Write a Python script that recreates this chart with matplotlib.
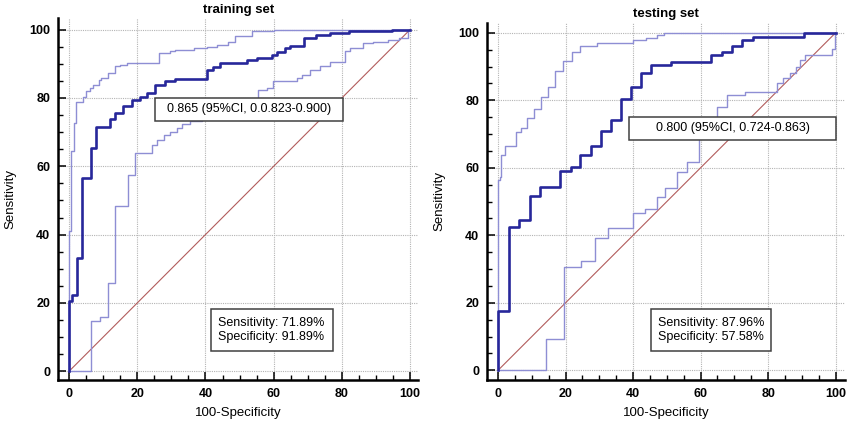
import numpy as np
import matplotlib
matplotlib.use('Agg')
import matplotlib.pyplot as plt
from matplotlib.patches import Rectangle
from matplotlib.ticker import MultipleLocator

plt.rcParams['font.family'] = ['Liberation Sans', 'DejaVu Sans']

# training set: ROC corner points (100-specificity, sensitivity)
train_fpr = [0, 0, 0.8, 2.2, 3.9, 6.4, 7.8, 12, 13.5, 15.9, 18.6, 20.8, 22.8, 25.2, 28.2,
             31.1, 40.4, 42.2, 44.3, 52.3, 55, 59.5, 61, 63.3, 64.8, 68.8, 72.3, 76.5, 82,
             94.6, 100]
train_tpr = [0, 20.5, 22.2, 33.2, 56.5, 65.3, 71.6, 73.8, 75.7, 77.5, 79.4, 80.4, 81.4, 83.8,
             84.8, 85.6, 88.2, 88.9, 90.3, 91.0, 91.7, 92.6, 93.3, 94.5, 95.1, 97.5, 98.3,
             99.0, 99.5, 100, 100]
train_up_fpr = [0, 0, 0.6, 1.5, 2.0, 4.2, 5.1, 6.2, 7.1, 8.9, 9.5, 11.5, 13.5, 15, 16.9, 26.5,
                29.6, 31.1, 36.5, 40.4, 43.3, 46.7, 48.7, 53.6, 60, 100]
train_up_tpr = [0, 41, 64.5, 72.8, 78.9, 80.4, 81.9, 82.8, 83.8, 85.3, 85.8, 87.2, 89.2, 89.7,
                90.2, 93.1, 93.6, 94.1, 94.6, 95.0, 95.5, 96.5, 98, 99.6, 100, 100]
train_lo_fpr = [0, 6.4, 9.1, 11.5, 13.5, 17.4, 19.4, 24.2, 25.7, 27.7, 29.6, 31.6, 33, 35.5,
                39, 43, 47, 51, 55.5, 57.9, 59.9, 66.8, 68.2, 70.7, 73.6, 76.5, 80.9, 82.4,
                86.3, 89.2, 93.6, 96.6, 99.5, 100]
train_lo_tpr = [0, 14.7, 15.8, 25.9, 48.5, 57.5, 63.8, 66.2, 67.7, 69.2, 70.1, 71.1, 72.4,
                73.1, 74.5, 76, 77.5, 79, 82.3, 82.8, 84.8, 85.8, 86.7, 88.2, 89.2, 90.6,
                93.6, 94.6, 96.0, 96.5, 97.0, 97.5, 100, 100]

# testing set
test_fpr = [0, 0, 3.2, 6.3, 9.4, 12.3, 18.4, 21.5, 24.3, 27.4, 30.4, 33.4, 36.3, 39.3, 42.4,
            45.4, 51.3, 63.2, 66.4, 69.4, 72.3, 75.5, 90.6, 100]
test_tpr = [0, 17.6, 42.4, 44.4, 51.7, 54.4, 59.1, 60.1, 63.8, 66.4, 71.0, 74.2, 80.3, 84.0,
            88.0, 90.6, 91.4, 93.4, 94.4, 96.2, 97.8, 98.8, 100, 100]
test_up_fpr = [0, 0, 0.6, 1.0, 2.1, 5.2, 6.7, 8.5, 10.7, 12.6, 14.8, 16.8, 19.3, 21.8, 24.3,
               29.4, 40.1, 43.7, 47.0, 49.2, 100]
test_up_tpr = [0, 56.4, 57.2, 63.8, 66.4, 70.7, 71.7, 74.9, 77.4, 81.0, 83.8, 88.8, 91.7,
               94.2, 96.1, 96.9, 97.8, 98.5, 99.3, 100, 100]
test_lo_fpr = [0, 14.2, 19.5, 24.5, 28.7, 32.7, 39.9, 43.5, 47.0, 49.5, 52.9, 55.9, 59.6,
               62.3, 64.8, 67.7, 73.1, 82.5, 84.5, 86.5, 88.4, 89.4, 90.9, 98.8, 99.8, 100]
test_lo_tpr = [0, 9.3, 30.5, 32.4, 39.3, 42.1, 46.5, 47.8, 51.4, 53.9, 58.8, 61.8, 69.0,
               73.0, 78.1, 81.5, 82.5, 85.0, 86.5, 88.0, 90.0, 91.9, 93.4, 95.2, 100, 100]

titles = ['training set', 'testing set']
auc_labels = ['0.865 (95%CI, 0.0.823-0.900)', '0.800 (95%CI, 0.724-0.863)']
stat_labels = ['Sensitivity: 71.89%\nSpecificity: 91.89%',
               'Sensitivity: 87.96%\nSpecificity: 57.58%']

MAIN = '#27279a'
CI = '#8e8ed4'
DIAG = '#b25c5c'

fig = plt.figure(figsize=(8.48, 4.25), dpi=100)
ax1 = fig.add_axes([0.0688, 0.1059, 0.4241, 0.8511])
ax2 = fig.add_axes([0.5747, 0.1059, 0.4214, 0.8407])

panels = [
    (ax1, train_fpr, train_tpr, train_up_fpr, train_up_tpr, train_lo_fpr, train_lo_tpr,
     (-3.14, 102.3), (-2.55, 103.3),
     (25.2, 73.3, 55.2, 6.7), (41.5, 5.9, 35.8, 12.2), 43.8),
    (ax2, test_fpr, test_tpr, test_up_fpr, test_up_tpr, test_lo_fpr, test_lo_tpr,
     (-3.17, 102.7), (-2.87, 103.0),
     (38.8, 68.2, 61.4, 6.9), (45.4, 5.6, 35.5, 12.5), 47.5),
]

for i, (ax, f, t, uf, ut, lf, lt, xl, yl, abox, sbox, sx) in enumerate(panels):
    ax.plot([0, 100], [0, 100], color=DIAG, lw=0.8, zorder=2)
    ax.plot(uf, ut, drawstyle='steps-post', color=CI, lw=1.0, zorder=3)
    ax.plot(lf, lt, drawstyle='steps-post', color=CI, lw=1.0, zorder=3)
    ax.plot(f, t, drawstyle='steps-post', color=MAIN, lw=1.9, zorder=4)

    ax.set_xlim(*xl)
    ax.set_ylim(*yl)
    ax.xaxis.set_major_locator(MultipleLocator(20))
    ax.yaxis.set_major_locator(MultipleLocator(20))
    ax.xaxis.set_minor_locator(MultipleLocator(5))
    ax.yaxis.set_minor_locator(MultipleLocator(5))
    ax.grid(True, which='major', color='#b4b4b4', lw=0.8, linestyle=(0, (1, 1)), zorder=1)
    ax.set_axisbelow(True)
    for s in ['top', 'right']:
        ax.spines[s].set_visible(False)
    for s in ['left', 'bottom']:
        ax.spines[s].set_linewidth(1.8)
    ax.tick_params(which='major', direction='in', length=6, width=1.1, labelsize=9, pad=6)
    ax.tick_params(which='minor', direction='in', length=3.5, width=1.0)
    for lab in ax.get_xticklabels() + ax.get_yticklabels():
        lab.set_fontweight('bold')

    ax.set_title(titles[i], fontsize=9.5, fontweight='bold', pad=4)
    ax.set_xlabel('100-Specificity', fontsize=9.5, labelpad=5)
    ax.set_ylabel('Sensitivity', fontsize=9.5, labelpad=9)

    bx, by, bw, bh = abox
    ax.add_patch(Rectangle((bx, by), bw, bh, facecolor='white', edgecolor='#404040',
                           lw=1.1, zorder=6))
    ax.text(bx + bw / 2, by + bh / 2, auc_labels[i], ha='center', va='center',
            fontsize=9, zorder=7)

    bx, by, bw, bh = sbox
    ax.add_patch(Rectangle((bx, by), bw, bh, facecolor='white', edgecolor='#404040',
                           lw=1.1, zorder=6))
    ax.text(sx, by + bh / 2, stat_labels[i], ha='left', va='center',
            fontsize=9, linespacing=1.25, zorder=7)

fig.savefig('out.png', dpi=100)
